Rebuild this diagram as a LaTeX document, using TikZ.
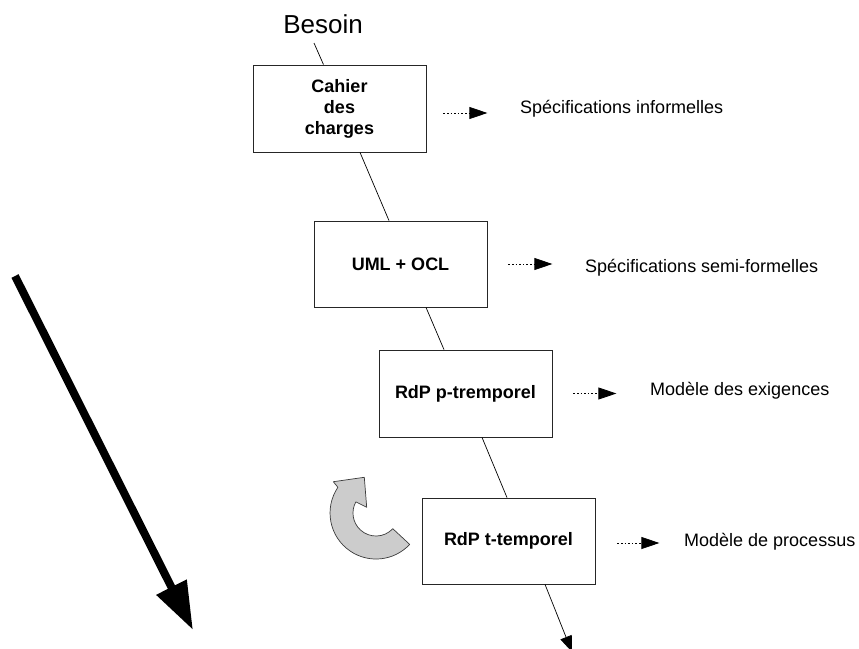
\documentclass[tikz,border=0pt]{standalone}
\usepackage{fontspec}
\setmainfont{Liberation Sans}
\usetikzlibrary{arrows.meta}
\definecolor{arrowgray}{RGB}{204,204,204}
\definecolor{edgegray}{RGB}{60,60,60}
\begin{document}
\begin{tikzpicture}[x=1pt,y=1pt,
  box/.style={draw=black!85, line width=0.8pt, minimum width=173pt, minimum height=86pt, inner sep=0pt, align=center, font=\bfseries\fontsize{18}{21}\selectfont},
  side/.style={anchor=base west, inner sep=0pt, font=\fontsize{18}{21}\selectfont},
  link/.style={line width=0.7pt},
  outarrow/.style={dash pattern=on 1.6pt off 2pt, line width=0.8pt, -{Triangle[length=18pt,width=12pt]}},
  curvarr/.style={fill=arrowgray, draw=edgegray, line width=0.7pt, line join=round},
]
\clip (0,0) rectangle (859,-648);

% title
\node[anchor=base, inner sep=0pt, font=\fontsize{26}{30}\selectfont] (besoin) at (323,-33) {Besoin};

% boxes
\node[box, minimum height=87pt] (b1) at (339.5,-108.5) {Cahier\\des\\charges};
\node[box] (b2) at (400.5,-264) {UML + OCL};
\node[box, minimum height=87pt] (b3) at (465.5,-393.5) {RdP p-tremporel};
\node[box] (b4) at (508.5,-541) {RdP t-temporel};

% side texts
\node[side] (t1) at (520,-113) {Spécifications informelles};
\node[side] (t2) at (585,-272) {Spécifications semi-formelles};
\node[side] (t3) at (650,-395) {Modèle des exigences};
\node[side] (t4) at (684,-546) {Modèle de processus};

% chain
\draw[link] ([xshift=-9pt,yshift=-10pt]besoin.base) -- ([xshift=-16pt]b1.north);
\draw[link] ([xshift=20.5pt]b1.south) -- ([xshift=-11.5pt]b2.north);
\draw[link] ([xshift=25.5pt]b2.south) -- ([xshift=-21.5pt]b3.north);
\draw[link] ([xshift=16.5pt]b3.south) -- ([xshift=-1.5pt]b4.north);
\coordinate (endc) at (572,-652);
\draw[link, -{Triangle[length=16pt,width=12pt]}] ([xshift=36.5pt]b4.south) -- (endc);

% dotted outputs
\draw[outarrow] ([xshift=17pt,yshift=-4.5pt]b1.east) -- ++(44,0);
\draw[outarrow] ([xshift=21pt]b2.east) -- ++(44,0);
\draw[outarrow] ([xshift=21pt]b3.east) -- ++(43,0);
\draw[outarrow] ([xshift=22pt,yshift=-2pt]b4.east) -- ++(42,0);

% curved arrow
\draw[curvarr] (337.9,-487.3) arc[start angle=146,end angle=317,radius=46]
  -- (392.8,-528.7) arc[start angle=317,end angle=151,radius=23]
  -- (366.7,-507.3) -- (364.3,-477.3) -- (333.3,-481.7) -- cycle;

% big arrow
\coordinate (bigS) at (15,-276);
\coordinate (bigE) at (193,-630);
\draw[line width=8pt, -{Triangle[length=48pt,width=32pt]}] (bigS) -- (bigE);
\end{tikzpicture}
\end{document}
